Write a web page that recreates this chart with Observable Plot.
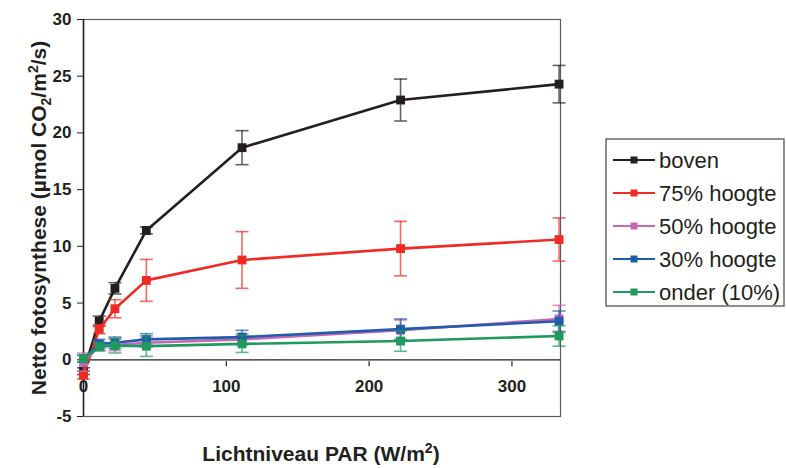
<!DOCTYPE html>
<html><head><meta charset="utf-8">
<script src="https://cdn.jsdelivr.net/npm/d3@7"></script>
<script src="https://cdn.jsdelivr.net/npm/@observablehq/plot@0.6"></script>
<style>body{margin:0;background:#fff}#chart{width:786px;height:468px}</style>
</head><body><div id="chart"></div>
<script>
// PAR light levels (W/m2)
const par = [0, 11, 22, 44, 111, 222, 333];
const seriesNames = ["boven", "75% hoogte", "50% hoogte", "30% hoogte", "onder (10%)"];
const seriesColors = ["#231f20", "#ee2b24", "#c667b2", "#1f5cab", "#1f9a5e"];
const bovenMean = [-1.0, 3.4, 6.3, 11.4, 18.7, 22.9, 24.3];
const bovenErr  = [0.3, 0.45, 0.5, 0.3, 1.5, 1.85, 1.65];
const h75Mean   = [-1.35, 2.7, 4.5, 7.0, 8.8, 9.8, 10.6];
const h75Err    = [0.35, 0.4, 0.8, 1.85, 2.5, 2.4, 1.9];
const h50Mean   = [-0.2, 1.2, 1.3, 1.5, 1.8, 2.6, 3.6];
const h50Err    = [0.8, 0.4, 0.5, 0.4, 0.5, 0.9, 1.2];
const h30Mean   = [0.1, 1.4, 1.5, 1.8, 2.0, 2.7, 3.4];
const h30Err    = [0.3, 0.4, 0.5, 0.5, 0.6, 0.9, 0.9];
const onderMean = [0.1, 1.15, 1.25, 1.2, 1.4, 1.65, 2.1];
const onderErr  = [0.3, 0.35, 0.65, 0.9, 0.75, 0.9, 0.9];
const yTicks = [-5, 0, 5, 10, 15, 20, 25, 30];
const xTicks = [0, 100, 200, 300];
// title pieces: [text, shift] where shift is "sub", "sup" or ""
const yTitleParts = [["Netto fotosynthese (µmol CO", ""], ["2", "sub"], ["/m", ""], ["2", "sup"], ["/s)", ""]];
const xTitleParts = [["Lichtniveau PAR (W/m", ""], ["2", "sup"], [")", ""]];

const means = [bovenMean, h75Mean, h50Mean, h30Mean, onderMean];
const errs = [bovenErr, h75Err, h50Err, h30Err, onderErr];

const capSymbol = {draw(ctx, size) { const r = Math.sqrt(size / Math.PI); ctx.moveTo(-r, 0); ctx.lineTo(r, 0); }};
const tickSymbol = {draw(ctx, size) { const r = Math.sqrt(size / Math.PI); ctx.moveTo(0, 0); ctx.lineTo(0, r); }};

const font = "'Liberation Sans', Arial, sans-serif";
const marks = [
  Plot.frame({stroke: "#5a5a5a", strokeWidth: 1.2}),
  Plot.ruleY([0], {stroke: "#231f20", strokeWidth: 1.2}),
  Plot.ruleX([0], {stroke: "#231f20", strokeWidth: 1.5}),
  Plot.axisY(yTicks, {tickSize: 6, tickPadding: 6, fontSize: 17, fontWeight: "bold", color: "#231f20", label: null, tickFormat: d => String(d)}),
  Plot.dot(xTicks.filter(d => d > 0), {x: d => d, y: 0, symbol: tickSymbol, r: 5, dy: 1.5, stroke: "#231f20", strokeWidth: 1.2}),
  Plot.text(xTicks, {x: d => d, y: 0, dy: 27, fontSize: 17, fontWeight: "bold", fill: "#231f20"})
];

seriesNames.forEach((s, i) => {
  const d = par.map((x, j) => ({series: s, x, y: means[i][j], e: errs[i][j]}));
  const c = seriesColors[i];
  marks.push(
    Plot.ruleX(d, {x: "x", y1: r => r.y - r.e, y2: r => r.y + r.e, stroke: c, strokeWidth: 1.6, strokeOpacity: 0.7}),
    Plot.dot(d, {x: "x", y: r => r.y + r.e, symbol: capSymbol, r: 6.5, stroke: c, strokeWidth: 1.6, strokeOpacity: 0.7}),
    Plot.dot(d, {x: "x", y: r => r.y - r.e, symbol: capSymbol, r: 6.5, stroke: c, strokeWidth: 1.6, strokeOpacity: 0.7}),
    Plot.line(d, {x: "x", y: "y", stroke: c, strokeWidth: 2.6}),
    Plot.dot(d, {x: "x", y: "y", symbol: "square", r: 5, fill: c, stroke: "none"})
  );
});

const svg = Plot.plot({
  width: 786, height: 468,
  marginLeft: 83, marginRight: 226, marginTop: 19, marginBottom: 52,
  style: {fontFamily: font, background: "white", overflow: "visible"},
  x: {domain: [0, 334], axis: null},
  y: {domain: [-5, 30], axis: null},
  marks
});

const s = d3.select(svg);
function addTitle(sel, parts) {
  parts.forEach(([t, k]) => {
    const ts = sel.append("tspan").text(t);
    if (k === "sup") ts.attr("font-size", "14px").attr("dy", -8);
    else if (k === "sub") ts.attr("font-size", "14px").attr("dy", 5);
    else ts.attr("dy", 0);
  });
  // reset baseline after shifted pieces
  const spans = sel.selectAll("tspan").nodes();
  for (let i = 1; i < spans.length; i++) {
    const prev = parts[i - 1][1];
    if (prev === "sup" && parts[i][1] === "") spans[i].setAttribute("dy", 8);
    if (prev === "sub" && parts[i][1] === "") spans[i].setAttribute("dy", -5);
  }
}
const yt = s.append("text").attr("transform", "translate(46,218) rotate(-90)")
  .attr("text-anchor", "middle")
  .style("font", `bold 21px ${font}`).attr("fill", "#231f20");
addTitle(yt, yTitleParts);
const xt = s.append("text").attr("x", 321).attr("y", 461)
  .attr("text-anchor", "middle")
  .style("font", `bold 21px ${font}`).attr("fill", "#231f20");
addTitle(xt, xTitleParts);

const lg = s.append("g");
lg.append("rect").attr("x", 606).attr("y", 139).attr("width", 178).attr("height", 167)
  .attr("fill", "white").attr("stroke", "#444").attr("stroke-width", 1.2);
seriesNames.forEach((name, i) => {
  const y = 160 + i * 33;
  lg.append("line").attr("x1", 613).attr("x2", 655).attr("y1", y).attr("y2", y)
    .attr("stroke", seriesColors[i]).attr("stroke-width", 2);
  lg.append("rect").attr("x", 630.5).attr("y", y - 3.5).attr("width", 7).attr("height", 7).attr("fill", seriesColors[i]);
  lg.append("text").attr("x", 659).attr("y", y + 7.5).attr("text-anchor", "start")
    .style("font", `22px ${font}`).attr("fill", "#231f20").text(name);
});

document.getElementById("chart").appendChild(svg);
</script>
</body></html>
